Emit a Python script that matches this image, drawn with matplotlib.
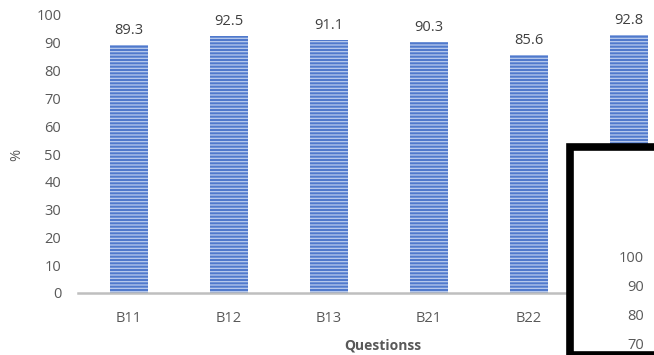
import matplotlib.pyplot as plt
from matplotlib.patches import Rectangle

plt.rcParams['font.family'] = ['Open Sans', 'DejaVu Sans']
plt.rcParams['hatch.linewidth'] = 0.9

# data
questions = ['B11', 'B12', 'B13', 'B21', 'B22', 'B23']
percent = [89.3, 92.5, 91.1, 90.3, 85.6, 92.8]
inset_ticks = ['100', '90', '80', '70']

W, H = 654, 355
fig = plt.figure(figsize=(W / 100, H / 100), dpi=100)
ax = fig.add_axes([78 / W, 1 - 293 / H, (W - 78) / W, (293 - 15) / H])

bars = ax.bar(range(len(questions)), percent, width=0.38,
              color='#5079cc', edgecolor='#b9cbee', hatch='-----', linewidth=0)
for b, v in zip(bars, percent):
    ax.annotate(f'{v}', (b.get_x() + b.get_width() / 2, v), xytext=(0, 5),
                textcoords='offset points', ha='center', va='bottom',
                fontsize=10.5, color='#404040')

ax.set_xlim(-0.51, 5.25)
ax.set_ylim(0, 100)
ax.set_yticks(range(0, 101, 10))
ax.set_xticks(range(len(questions)))
ax.set_xticklabels(questions)
ax.tick_params(axis='both', length=0, labelsize=10.5, labelcolor='#595959')
ax.tick_params(axis='x', pad=13)
ax.tick_params(axis='y', pad=12)
# last label sits behind the overlapping frame in the screenshot
ax.get_xticklabels()[-1].set_visible(False)
for s in ['top', 'right', 'left']:
    ax.spines[s].set_visible(False)
ax.spines['bottom'].set_color('#bfbfbf')
ax.spines['bottom'].set_linewidth(1.8)

fig.text(17 / W, 1 - 155 / H, '%', rotation=90, ha='center', va='center',
         fontsize=10.5, color='#595959')
fig.text(383 / W, 1 - 346 / H, 'Questionss', ha='center', va='center',
         fontsize=10, color='#595959', fontweight='bold')

# overlapping frame of another chart
fig.patches.append(Rectangle((569.5 / W, 0), (W - 569.5 + 10) / W, 1 - 147 / H,
                             transform=fig.transFigure, facecolor='white',
                             edgecolor='black', linewidth=5.5, zorder=10))
for i, t in enumerate(inset_ticks):
    fig.text(644 / W, 1 - (258 + 29.3 * i) / H, t, ha='right', va='center',
             fontsize=10.5, color='#595959', zorder=11)

fig.savefig('out.png', dpi=100)
